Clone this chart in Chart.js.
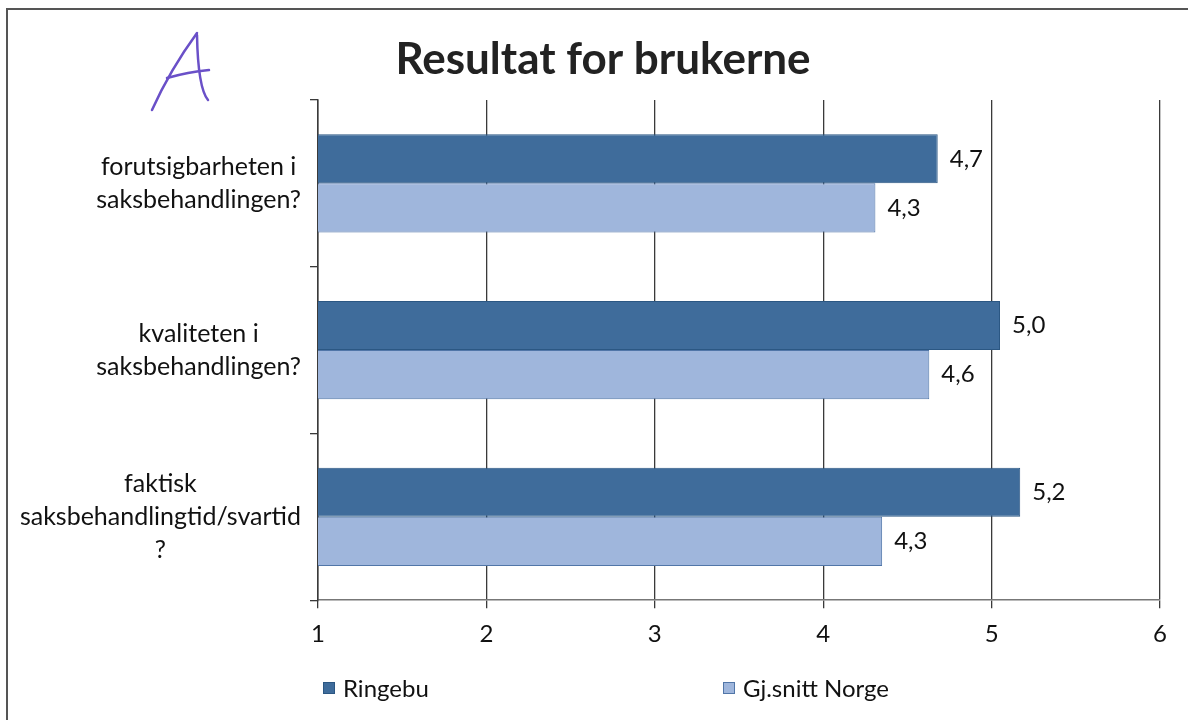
<!DOCTYPE html>
<html>
<head>
<meta charset="utf-8">
<script src="https://cdn.jsdelivr.net/npm/chart.js@4"></script>
<style>
  html, body { margin: 0; padding: 0; background: #fff; }
  #wrap { width: 1188px; height: 720px; position: relative; }
</style>
</head>
<body>
<div id="wrap"><canvas id="resultChart"></canvas></div>
<script>
const title = "Resultat for brukerne";
const categories = [
  ["forutsigbarheten i", "saksbehandlingen?"],
  ["kvaliteten i", "saksbehandlingen?"],
  ["faktisk", "saksbehandlingtid/svartid", "?"]
];
const ringebu = [4.68, 5.05, 5.17];
const norge = [4.31, 4.63, 4.35];
const xTicks = [1, 2, 3, 4, 5, 6];

const FONT = "Lato, 'Open Sans', sans-serif";

// labels at the end of each bar, "4,7" style
const valueLabels = {
  id: "valueLabels",
  afterDatasetsDraw(chart) {
    const ctx = chart.ctx;
    ctx.save();
    ctx.font = "24px " + FONT;
    ctx.fillStyle = "#111";
    ctx.textAlign = "left";
    ctx.textBaseline = "middle";
    chart.data.datasets.forEach((ds, i) => {
      chart.getDatasetMeta(i).data.forEach((bar, j) => {
        const txt = ds.data[j].toFixed(1).replace(".", ",");
        ctx.fillText(txt, bar.x + 12, bar.y);
      });
    });
    ctx.restore();
  }
};

// category labels like Excel: each block pushed right, lines centred inside it
const catLabels = {
  id: "catLabels",
  afterDraw(chart) {
    const ctx = chart.ctx;
    const y = chart.scales.y;
    const right = 301, lh = 33;
    ctx.save();
    ctx.font = "25px " + FONT;
    ctx.fillStyle = "#111";
    ctx.textAlign = "center";
    ctx.textBaseline = "middle";
    chart.data.labels.forEach((lines, i) => {
      const w = Math.max(...lines.map(l => ctx.measureText(l).width));
      const cx = right - w / 2;
      const cy = y.getPixelForTick(i);
      lines.forEach((l, k) => {
        ctx.fillText(l, cx, cy + (k - (lines.length - 1) / 2) * lh);
      });
    });
    ctx.restore();
  }
};

// title, legend spread out under the chart, page frame and the handwritten "A"
const extras = {
  id: "extras",
  afterDraw(chart) {
    const ctx = chart.ctx;
    ctx.save();
    ctx.fillStyle = "#222";
    ctx.font = "bold 44px " + FONT;
    ctx.textAlign = "center";
    ctx.textBaseline = "middle";
    ctx.fillText(title, 603, 60);

    // frame
    ctx.strokeStyle = "#555";
    ctx.lineWidth = 2;
    ctx.beginPath();
    ctx.moveTo(7, 720);
    ctx.lineTo(7, 9);
    ctx.lineTo(1188, 9);
    ctx.stroke();

    // legend
    const starts = [323, 723];
    ctx.font = "24px " + FONT;
    ctx.textAlign = "left";
    chart.data.datasets.forEach((ds, i) => {
      const x = starts[i], y = 688;
      ctx.fillStyle = ds.backgroundColor;
      ctx.fillRect(x, y - 6, 12, 12);
      ctx.strokeStyle = ds.borderColor;
      ctx.lineWidth = 1;
      ctx.strokeRect(x + 0.5, y - 5.5, 11, 11);
      ctx.fillStyle = "#111";
      ctx.fillText(ds.label, x + 20, y + 1);
    });

    // handwritten A
    ctx.strokeStyle = "#6a50c8";
    ctx.lineWidth = 2.5;
    ctx.lineCap = "round";
    ctx.beginPath();
    ctx.moveTo(152, 110);
    ctx.quadraticCurveTo(170, 70, 197, 33);
    ctx.stroke();
    ctx.beginPath();
    ctx.moveTo(197, 35);
    ctx.quadraticCurveTo(198, 88, 208, 100);
    ctx.stroke();
    ctx.beginPath();
    ctx.moveTo(167, 78);
    ctx.quadraticCurveTo(188, 72, 209, 70);
    ctx.stroke();
    ctx.restore();
  }
};

new Chart(document.getElementById("resultChart"), {
  type: "bar",
  data: {
    labels: categories,
    datasets: [
      {
        label: "Ringebu",
        data: ringebu,
        backgroundColor: "#3f6c9b",
        borderColor: "#2b5783",
        borderWidth: 1
      },
      {
        label: "Gj.snitt Norge",
        data: norge,
        backgroundColor: "#9fb6dc",
        borderColor: "#5176a8",
        borderWidth: 1
      }
    ]
  },
  options: {
    indexAxis: "y",
    responsive: true,
    maintainAspectRatio: false,
    animation: false,
    layout: { padding: { left: 0, right: 28, top: 100, bottom: 59 } },
    datasets: { bar: { categoryPercentage: 0.59, barPercentage: 1 } },
    plugins: {
      legend: { display: false },
      tooltip: { enabled: false },
      title: { display: false }
    },
    scales: {
      x: {
        min: 1,
        max: 6,
        afterBuildTicks: (scale) => { scale.ticks = xTicks.map(v => ({ value: v })); },
        grid: { color: "#3a3a3a", lineWidth: 1.3, tickLength: 8 },
        border: { color: "#777", width: 1.5 },
        ticks: {
          color: "#111",
          padding: 12,
          font: { family: FONT, size: 24, lineHeight: 1.2 }
        }
      },
      y: {
        grid: { offset: true, drawOnChartArea: false, tickLength: 8, color: "#3a3a3a", lineWidth: 1.3 },
        border: { color: "#3a3a3a", width: 1.5 },
        afterFit: (scale) => { scale.width = 318; },
        ticks: { display: false }
      }
    }
  },
  plugins: [valueLabels, catLabels, extras]
});
</script>
</body>
</html>
